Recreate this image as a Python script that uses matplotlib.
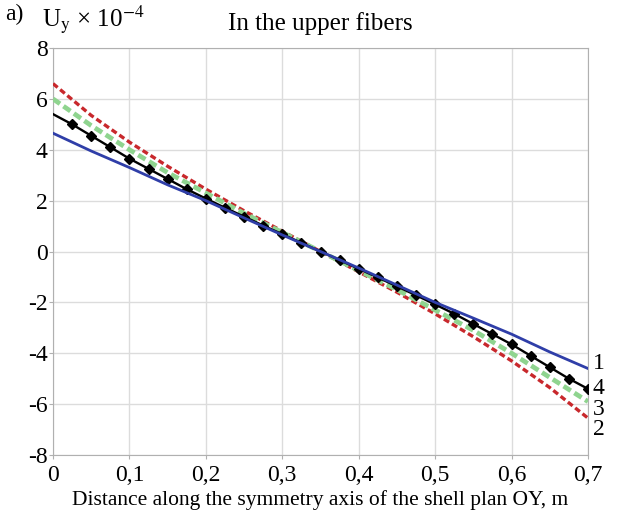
import matplotlib
matplotlib.use("Agg")
import matplotlib.pyplot as plt
import numpy as np

plt.rcParams['font.family'] = ['Liberation Serif', 'DejaVu Serif']
plt.rcParams['mathtext.fontset'] = 'stix'
plt.rcParams['axes.unicode_minus'] = False

# x positions (m)
x_coarse = [0.0, 0.05, 0.1, 0.15, 0.2, 0.25, 0.3, 0.35, 0.4, 0.45, 0.5, 0.55, 0.6, 0.65, 0.7]
x_fine = [0.0, 0.025, 0.05, 0.075, 0.1, 0.125, 0.15, 0.175, 0.2, 0.225, 0.25, 0.275, 0.3, 0.325, 0.35,
          0.375, 0.4, 0.425, 0.45, 0.475, 0.5, 0.525, 0.55, 0.575, 0.6, 0.625, 0.65, 0.675, 0.7]

# Curve 1 (blue solid)
u1 = [4.65, 3.95, 3.3, 2.62, 2.0, 1.32, 0.65, 0.0, -0.65, -1.32, -2.0, -2.62, -3.25, -3.95, -4.6]
# Curve 2 (red dashed)
u2 = [6.6, 5.35, 4.3, 3.35, 2.45, 1.6, 0.8, 0.0, -0.8, -1.6, -2.45, -3.35, -4.3, -5.35, -6.55]
# Curve 3 (green dashed)
u3 = [6.0, 4.95, 4.0, 3.1, 2.3, 1.5, 0.75, 0.0, -0.75, -1.5, -2.3, -3.1, -4.0, -4.95, -5.9]
# Curve 4 (black with diamonds)
u4 = [5.4, 5.0, 4.55, 4.1, 3.65, 3.25, 2.85, 2.45, 2.08, 1.72, 1.37, 1.02, 0.68, 0.34, 0.0,
      -0.34, -0.68, -1.02, -1.37, -1.72, -2.08, -2.45, -2.85, -3.25, -3.65, -4.1, -4.55, -5.0, -5.4]

labels = ["1", "4", "3", "2"]
label_y = [-4.4, -5.4, -6.2, -7.0]

xticks = [0, 0.1, 0.2, 0.3, 0.4, 0.5, 0.6, 0.7]
xtick_labels = ["0", "0,1", "0,2", "0,3", "0,4", "0,5", "0,6", "0,7"]
yticks = [-8, -6, -4, -2, 0, 2, 4, 6, 8]

fig = plt.figure(figsize=(6.18, 5.13), dpi=100)
ax = fig.add_axes([53/618, 1-455/513, (588-53)/618, (455-48)/513])

ax.plot(x_coarse, u2, color='#c8282c', lw=2.4, dashes=(1.8, 1.0), zorder=3)
ax.plot(x_coarse, u3, color='#8fd48f', lw=3.4, dashes=(1.8, 0.9), zorder=3)
ax.plot(x_fine, u4, color='black', lw=1.7, marker='D', ms=5, markevery=slice(1, None), zorder=4)
ax.plot(x_coarse, u1, color='#2f3ea8', lw=2.0, zorder=5)

ax.set_xlim(0, 0.7)
ax.set_ylim(-8, 8)
ax.set_xticks(xticks)
ax.set_xticklabels(xtick_labels)
ax.set_yticks(yticks)
ax.tick_params(labelsize=17, length=3, color='#b0b0b0', pad=1)
ax.tick_params(axis='x', pad=4)
ax.grid(True, color='#dcdcdc', lw=1.0)
for s in ax.spines.values():
    s.set_color('#b0b0b0')

ax.set_xlabel("Distance along the symmetry axis of the shell plan OY, m", fontsize=15.5, labelpad=3)
ax.set_title("In the upper fibers", fontsize=18, pad=13)

for lab, yv in zip(labels, label_y):
    ax.text(0.706, yv, lab, fontsize=17, ha='left', va='center', clip_on=False)

fig.text(5/618, 1-14/513, "a)", fontsize=17, ha='left', va='center')
fig.text(42/618, 1-20/513, r"U$_\mathrm{y}$ × 10$^{-4}$", fontsize=18, ha='left', va='center')

fig.savefig("out.png", dpi=100)
